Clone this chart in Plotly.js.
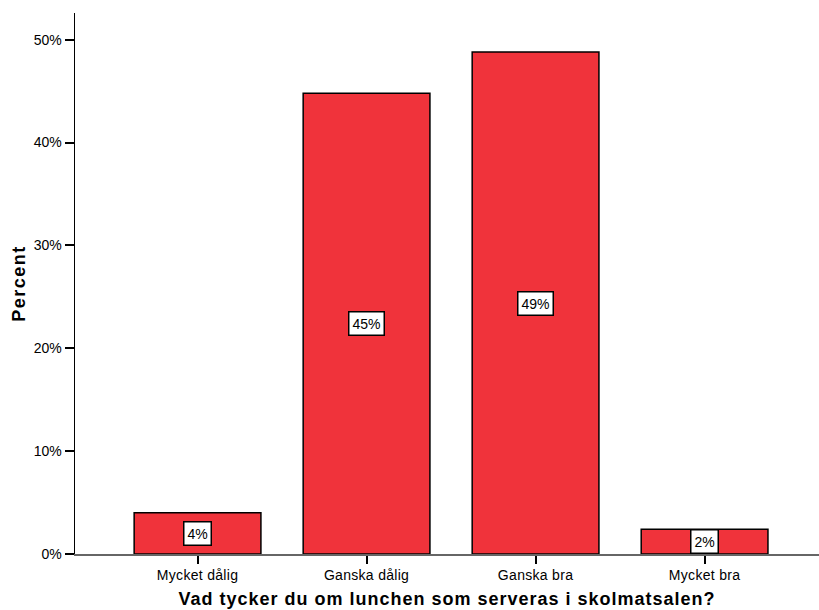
<!DOCTYPE html>
<html>
<head>
<meta charset="utf-8">
<script src="https://cdn.plot.ly/plotly-3.0.1.min.js"></script>
<style>
  html, body { margin: 0; padding: 0; background: #fff; }
  #chart { width: 819px; height: 610px; }
  /* slightly airy lettering for the axis titles and tick labels */
  #chart .xtitle, #chart .ytitle { letter-spacing: 1px; }
  #chart .ytitle { letter-spacing: 1.5px; }
  #chart .xtick text { letter-spacing: 0.3px; }
</style>
</head>
<body>
<div id="chart"></div>
<script>
// Answers to the school lunch question, share of respondents (%)
const categories = ['Mycket dålig', 'Ganska dålig', 'Ganska bra', 'Mycket bra'];
const percents = [4.0, 44.8, 48.8, 2.4];
const yTickVals = [0, 10, 20, 30, 40, 50];

const barColor = '#F0333B';
const fontFamily = '"Liberation Sans", Arial, sans-serif';

const trace = {
  type: 'bar',
  x: categories,
  y: percents,
  width: 0.75,
  marker: { color: barColor, line: { color: '#000', width: 1.5 } },
  hoverinfo: 'skip'
};

// Value boxes centred halfway up each bar
const labels = categories.map((c, i) => ({
  x: c,
  y: percents[i] / 2,
  xref: 'x',
  yref: 'y',
  text: Math.round(percents[i]) + '%',
  showarrow: false,
  bgcolor: '#fff',
  bordercolor: '#000',
  borderwidth: 1.5,
  borderpad: 3,
  font: { family: fontFamily, size: 14, color: '#000' }
}));

const layout = {
  width: 819,
  height: 610,
  margin: { l: 75, r: 0, t: 13, b: 56 },
  paper_bgcolor: '#fff',
  plot_bgcolor: '#fff',
  font: { family: fontFamily, size: 14, color: '#000' },
  showlegend: false,
  bargap: 0.25,
  xaxis: {
    type: 'category',
    range: [-0.725, 3.677],
    showgrid: false,
    zeroline: false,
    showline: true,
    linecolor: '#666',
    linewidth: 1.5,
    ticks: 'outside',
    ticklen: 8,
    tickwidth: 2,
    tickcolor: '#000',
    tickfont: { size: 14 },
    title: {
      text: 'Vad tycker du om lunchen som serveras i skolmatsalen?',
      font: { size: 18, family: fontFamily, weight: 'bold' },
      standoff: 10
    },
    fixedrange: true
  },
  yaxis: {
    range: [0, 52.6],
    tickvals: yTickVals,
    ticktext: yTickVals.map(v => v + '%'),
    showgrid: false,
    zeroline: false,
    showline: true,
    linecolor: '#000',
    linewidth: 1.5,
    ticks: 'outside',
    ticklen: 9,
    tickwidth: 2,
    tickcolor: '#000',
    tickfont: { size: 14 },
    title: {
      text: 'Percent',
      font: { size: 18, family: fontFamily, weight: 'bold' },
      standoff: 3
    },
    fixedrange: true
  },
  annotations: labels
};

Plotly.newPlot('chart', [trace], layout, { displayModeBar: false, staticPlot: true });
</script>
</body>
</html>
